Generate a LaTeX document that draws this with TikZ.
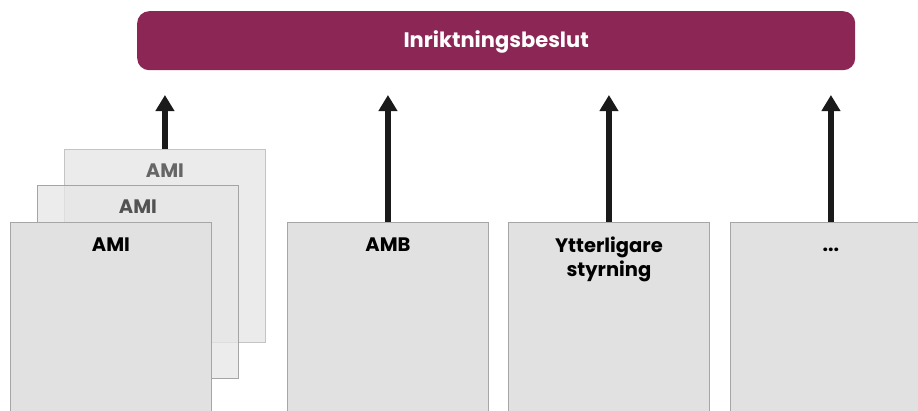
\documentclass[tikz,border=0pt]{standalone}
\usepackage{fontspec}
\setmainfont{Poppins}
\usetikzlibrary{arrows.meta}
\definecolor{banner}{HTML}{8C2755}
\definecolor{boxfill}{HTML}{E1E1E1}
\definecolor{boxline}{HTML}{A6A6A6}
\definecolor{backfill}{HTML}{EBEBEB}
\definecolor{backline}{HTML}{C4C4C4}
\definecolor{arrowc}{HTML}{1A1A1A}
\begin{document}
\begin{tikzpicture}[x=1pt,y=-1pt,
  colbox/.style={draw=boxline, fill=boxfill, line width=0.9pt, minimum width=201pt, minimum height=200pt, anchor=north west, inner sep=0pt},
  backbox/.style={draw=backline, fill=backfill, line width=0.9pt, minimum width=201pt, minimum height=193pt, anchor=north west, inner sep=0pt},
  midbox/.style={draw=backline!80!black, fill=boxfill!85!white, fill opacity=0.75, draw opacity=0.9, line width=0.9pt, minimum width=201pt, minimum height=193pt, anchor=north west, inner sep=0pt},
  lbl/.style={font=\bfseries\fontsize{19.5}{24}\selectfont, anchor=base, align=center, inner sep=0pt},
  arr/.style={draw=arrowc, line width=5.2pt, -{Triangle[width=18pt,length=16pt]}, arrowc}
]
\clip (0,0) rectangle (918,410);
\useasboundingbox (0,0) rectangle (918,410);
\fill[white] (0,0) rectangle (918,410);
% banner
\node[fill=banner, rounded corners=12pt, minimum width=718pt, minimum height=59pt, anchor=north west, inner sep=0pt] (ban) at (137,11) {};
\node[lbl, text=white, font=\fontseries{sb}\selectfont\fontsize{21}{24}\selectfont] (bant) at ([yshift=-7pt]ban.center) {Inriktningsbeslut};
\coordinate (tip) at (0,95);
% AMI stack
\node[backbox] (ami3) at (64,149) {};
\node[midbox] (ami2) at (37,185) {};
\node[colbox] (ami1) at (10,222) {};
\node[lbl, text=black!60] (ami3t) at ([yshift=-28pt]ami3.north) {AMI};
\node[lbl, text=black!68] (ami2t) at ([yshift=-28pt]ami2.north) {AMI};
\node[lbl, text=black] (ami1t) at ([yshift=-29pt]ami1.north) {AMI};
% other columns
\node[colbox] (amb) at (287,222) {};
\node[colbox] (ytt) at (508,222) {};
\node[colbox] (dots) at (730,222) {};
\node[lbl] (ambt) at ([yshift=-29pt]amb.north) {AMB};
\node[lbl] (yttt) at ([yshift=-54pt]ytt.north) {Ytterligare\\styrning};
\node[lbl] (dotst) at ([yshift=-29pt]dots.north) {...};
% arrows
\draw[arr] (ami3.north) -- (ami3.north |- tip);
\draw[arr] (amb.north) -- (amb.north |- tip);
\draw[arr] (ytt.north) -- (ytt.north |- tip);
\draw[arr] (dots.north) -- (dots.north |- tip);
\end{tikzpicture}
\end{document}
